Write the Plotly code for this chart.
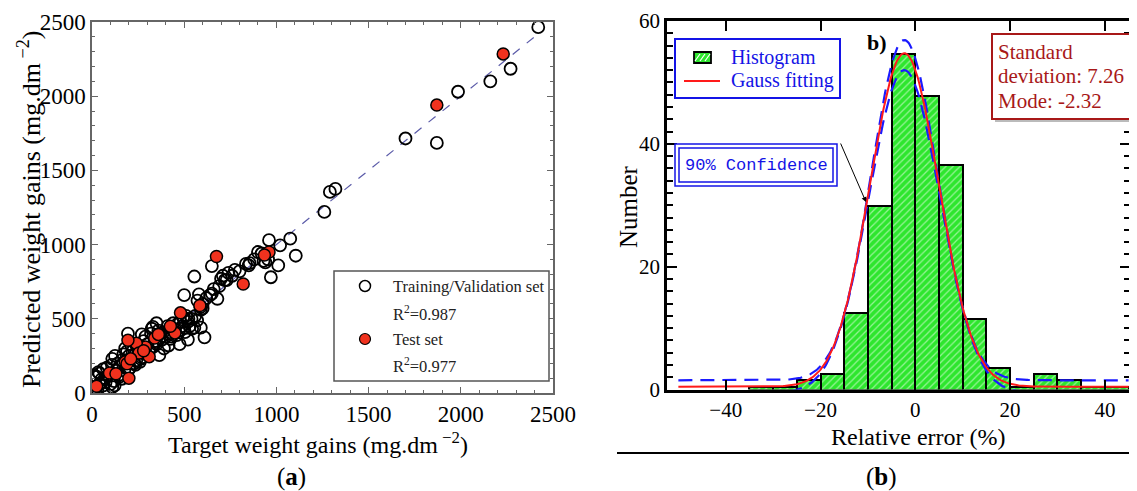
import numpy as np
import plotly.graph_objects as go

# The page body has an 8px default margin; size the figure so reference pixels map 1:1
OFF = 8
W, H = 1137 - OFF, 491 - OFF
def px(x): return (x - OFF) / W
def py(y): return 1 - (y - OFF) / H

# ---------------- Panel (a) data ----------------
train_target = [2420, 2270, 2160, 1985, 1870, 1700, 1320, 1290, 1260, 1075, 1020, 1105, 960, 970, 1010,
                940, 955, 900, 855, 835, 775, 740, 710, 720, 700, 650, 680, 650, 555, 500, 580, 600, 610,
                590, 555, 520, 475, 415, 365, 350, 330, 270, 195, 572, 588, 494, 523, 543, 465, 504, 426,
                387, 348, 324,
                0, 10, 20, 15, 30, 5, 40, 60, 50, 20, 35, 80, 70, 100, 110, 120, 130, 125, 110, 140, 150,
                160, 170, 180, 190, 200, 210, 220, 230, 240, 250, 260, 270, 280, 290, 300, 310, 320, 330,
                340, 350, 360, 370, 380, 390, 400, 410, 420, 430, 440, 450, 460, 470, 480, 490, 500, 510,
                520, 530, 540, 560, 570, 590, 600, 620, 640, 660, 690, 730, 760, 800, 850, 880, 920, 930,
                10, 40, 60, 74, 123, 162, 108, 54, 27, 145, 175, 205, 235, 265, 295, 150, 90, 200, 260]
train_pred = [2465, 2185, 2100, 2030, 1685, 1715, 1375, 1355, 1220, 1040, 995, 925, 1030, 780, 860,
              880, 900, 950, 875, 870, 830, 810, 790, 760, 770, 855, 635, 670, 785, 660, 665, 570, 375,
              440, 440, 360, 330, 320, 255, 470, 445, 395, 400, 623, 578, 511, 500, 433, 466, 410, 365,
              410, 343, 433,
              0, 5, 10, 30, 20, 20, 60, 50, 90, 110, 140, 170, 100, 60, 40, 80, 150, 250, 230, 200, 180,
              220, 260, 300, 280, 250, 330, 280, 200, 220, 310, 270, 240, 350, 380, 330, 290, 400, 310,
              350, 330, 420, 400, 360, 300, 380, 450, 410, 380, 470, 430, 390, 420, 480, 450, 440, 520,
              480, 450, 500, 520, 490, 560, 600, 640, 660, 700, 720, 760, 790, 820, 860, 900, 940, 890,
              120, 130, 160, 74, 52, 96, 189, 74, 108, 120, 150, 170, 190, 230, 260, 110, 120, 160, 210]

test_target = [2230, 1870, 960, 935, 820, 675, 585, 480, 450, 425, 340, 310, 290, 240, 255, 195, 200,
               180, 95, 25, 360, 190, 130, 210, 280]
test_pred = [2285, 1940, 950, 930, 735, 920, 590, 540, 405, 450, 370, 245, 310, 335, 270, 355, 100,
             210, 135, 45, 395, 197, 130, 230, 285]

ident = [0, 2400]

# ---------------- Panel (b) data ----------------
bin_centers = [-32.5, -27.5, -22.5, -17.5, -12.5, -7.5, -2.5, 2.5, 7.5, 12.5, 17.5, 22.5, 27.5, 32.5, 37.5, 42.5]
counts = [0.45, 0.45, 1.5, 2.5, 12.5, 29.8, 54.6, 47.8, 36.6, 11.4, 3.5, 0.45, 2.5, 1.5, 0.45, 0.45]

# Gaussian fit parameters (from the figure) and read-off confidence band parameters
fit_xc, fit_sd, fit_amp, fit_y0 = -2.32, 7.26, 54.3, 0.45
up_amp, up_sd, up_y0 = 55.4, 7.0, 1.5
lo_amp, lo_sd, lo_y0 = 52.6, 7.5, -0.6

xs = np.linspace(-50, 45, 400)
def gauss(x, a, s, y0):
    return y0 + a * np.exp(-(x - fit_xc) ** 2 / (2 * s ** 2))

fig = go.Figure()

# Panel a traces
fig.add_trace(go.Scatter(x=ident, y=ident, mode="lines", xaxis="x", yaxis="y",
                         line=dict(color="#5a5aa8", width=1.2, dash="dash"), showlegend=False))
fig.add_trace(go.Scatter(x=train_target, y=train_pred, mode="markers", xaxis="x", yaxis="y",
                         marker=dict(symbol="circle-open", size=12, color="black", line=dict(width=1.8)),
                         showlegend=False))
fig.add_trace(go.Scatter(x=test_target, y=test_pred, mode="markers", xaxis="x", yaxis="y",
                         marker=dict(symbol="circle", size=12, color="#f0321e", line=dict(color="black", width=1.5)),
                         showlegend=False))

# Panel b traces
fig.add_trace(go.Bar(x=bin_centers, y=counts, width=5, xaxis="x2", yaxis="y2",
                     marker=dict(color="#2ee62e", line=dict(color="black", width=2),
                                 pattern=dict(shape="/", fgcolor="white", size=5, solidity=0.25)),
                     showlegend=False))
fig.add_trace(go.Scatter(x=xs, y=gauss(xs, up_amp, up_sd, up_y0), mode="lines", xaxis="x2", yaxis="y2",
                         line=dict(color="#1a1aff", width=2.2, dash="14px,8px"), showlegend=False))
fig.add_trace(go.Scatter(x=xs, y=gauss(xs, lo_amp, lo_sd, lo_y0), mode="lines", xaxis="x2", yaxis="y2",
                         line=dict(color="#1a1aff", width=2.2, dash="14px,8px"), showlegend=False))
fig.add_trace(go.Scatter(x=xs, y=gauss(xs, fit_amp, fit_sd, fit_y0), mode="lines", xaxis="x2", yaxis="y2",
                         line=dict(color="#ff1a1a", width=2), showlegend=False))

serif = "Liberation Serif"
axA = dict(automargin=False, showline=True, linecolor="#666", linewidth=1.5, mirror="allticks", ticks="inside", ticklen=6,
           tickcolor="#666", tickwidth=1.2, showgrid=False, zeroline=False, range=[0, 2500], dtick=500,
           tickfont=dict(family=serif, size=23, color="black"),
           minor=dict(ticks="inside", ticklen=3, dtick=100, tickcolor="#666"))
fig.update_layout(
    width=W, height=H, margin=dict(l=0, r=0, t=0, b=0, autoexpand=False),
    paper_bgcolor="white", plot_bgcolor="white", bargap=0,
    xaxis=dict(domain=[px(92), px(553)], anchor="y", **axA),
    yaxis=dict(domain=[py(393), py(22)], anchor="x", **axA),
    xaxis2=dict(automargin=False, domain=[px(667), px(1130)], anchor="y2", range=[-52.4, 45.3], tickvals=[-40, -20, 0, 20, 40],
                showline=True, linecolor="black", linewidth=2.5, mirror="ticks", ticks="inside", ticklen=10,
                tickwidth=2, tickcolor="black", showgrid=False, zeroline=False,
                tickfont=dict(family=serif, size=21, color="black")),
    yaxis2=dict(automargin=False, domain=[py(389.5), py(21)], anchor="x2", range=[0, 60], tickvals=[0, 20, 40, 60],
                showline=True, linecolor="black", linewidth=2.5, mirror="allticks", ticks="inside", ticklen=10,
                tickwidth=2, tickcolor="black", showgrid=False, zeroline=False,
                tickfont=dict(family=serif, size=21, color="black"),
                minor=dict(ticks="inside", ticklen=6, dtick=2, tickcolor="black", tickwidth=1.5)),
)

shapes = []
ann = []
def text(t, x, y, size, color="black", family=serif, xanchor="center", angle=0):
    ann.append(dict(text=t, x=px(x), y=py(y), xref="paper", yref="paper", xanchor=xanchor, yanchor="middle",
                    showarrow=False, textangle=angle, font=dict(family=family, size=size, color=color)))

# Panel a legend
shapes.append(dict(type="rect", xref="paper", yref="paper", x0=px(334), x1=px(549), y0=py(381), y1=py(271),
                   line=dict(color="#555", width=1.5), fillcolor="white", layer="above"))
shapes.append(dict(type="circle", xref="paper", yref="paper", x0=px(359.5), x1=px(370.5), y0=py(291.5), y1=py(280.5),
                   line=dict(color="black", width=1.5), fillcolor="white"))
shapes.append(dict(type="circle", xref="paper", yref="paper", x0=px(359.5), x1=px(370.5), y0=py(344.5), y1=py(333.5),
                   line=dict(color="black", width=1.2), fillcolor="#f0321e"))
for t, yy in [("Training/Validation set", 286), ("R<sup>2</sup>=0.987", 313), ("Test set", 339), ("R<sup>2</sup>=0.977", 365)]:
    text(t, 391, yy, 16.5, "#222", xanchor="left")

# Axis titles panel a
text("Target weight gains (mg.dm<sup> −2</sup>)", 318, 443, 24)
text("Predicted weight gains (mg.dm<sup> −2</sup>)", 29, 209, 26, angle=-90)
text("(<b>a</b>)", 291, 477, 25)

# Panel b titles
text("Relative error (%)", 918, 437, 24)
text("Number", 629, 207, 25, angle=-90)
text("(<b>b</b>)", 881, 477, 25)
shapes.append(dict(type="line", xref="paper", yref="paper", x0=px(617), x1=1, y0=py(453), y1=py(453),
                   line=dict(color="black", width=2)))
text("<b>b)</b>", 877, 43, 22)

# Histogram legend box
blue = "#1414e6"
shapes.append(dict(type="rect", xref="paper", yref="paper", x0=px(675), x1=px(840), y0=py(98), y1=py(39),
                   line=dict(color=blue, width=2), fillcolor="white"))
shapes.append(dict(type="rect", xref="paper", yref="paper", x0=px(694), x1=px(711), y0=py(63), y1=py(52),
                   line=dict(color="black", width=1.8), fillcolor="#2ee62e"))
for a0 in [697, 702, 707]:
    shapes.append(dict(type="line", xref="paper", yref="paper", x0=px(a0 - 2), x1=px(a0 + 3), y0=py(61), y1=py(54),
                       line=dict(color="white", width=1.2)))
shapes.append(dict(type="line", xref="paper", yref="paper", x0=px(684), x1=px(720), y0=py(81), y1=py(81),
                   line=dict(color="#ff1a1a", width=2)))
text("Histogram", 729, 57, 20, blue, xanchor="left")
text("Gauss fitting", 729, 80, 20, blue, xanchor="left")

# 90% Confidence box
shapes.append(dict(type="rect", xref="paper", yref="paper", x0=px(675), x1=px(837), y0=py(186), y1=py(144),
                   line=dict(color=blue, width=1.5), fillcolor="white"))
shapes.append(dict(type="rect", xref="paper", yref="paper", x0=px(679), x1=px(833), y0=py(182), y1=py(148),
                   line=dict(color=blue, width=1.5)))
text("90% Confidence", 756, 165, 17, blue, family="Liberation Mono")
ann.append(dict(text="", x=px(866), y=py(202), xref="paper", yref="paper", showarrow=True, ax=-26, ay=-60,
                arrowhead=2, arrowsize=1, arrowwidth=1, arrowcolor="black"))

# Stats box
dred = "#a81818"
shapes.append(dict(type="rect", xref="paper", yref="paper", x0=px(995), x1=px(1134), y0=py(122), y1=py(37),
                   line=dict(color="#aaa", width=0), fillcolor="#bbb"))
shapes.append(dict(type="rect", xref="paper", yref="paper", x0=px(992), x1=px(1131), y0=py(119), y1=py(34),
                   line=dict(color=dred, width=2), fillcolor="white"))
for t, yy in [("Standard", 52), ("deviation: 7.26", 76), ("Mode: -2.32", 101)]:
    text(t, 996, yy, 21, dred, xanchor="left")

fig.update_layout(shapes=shapes, annotations=ann)
fig.write_html("out.html")
